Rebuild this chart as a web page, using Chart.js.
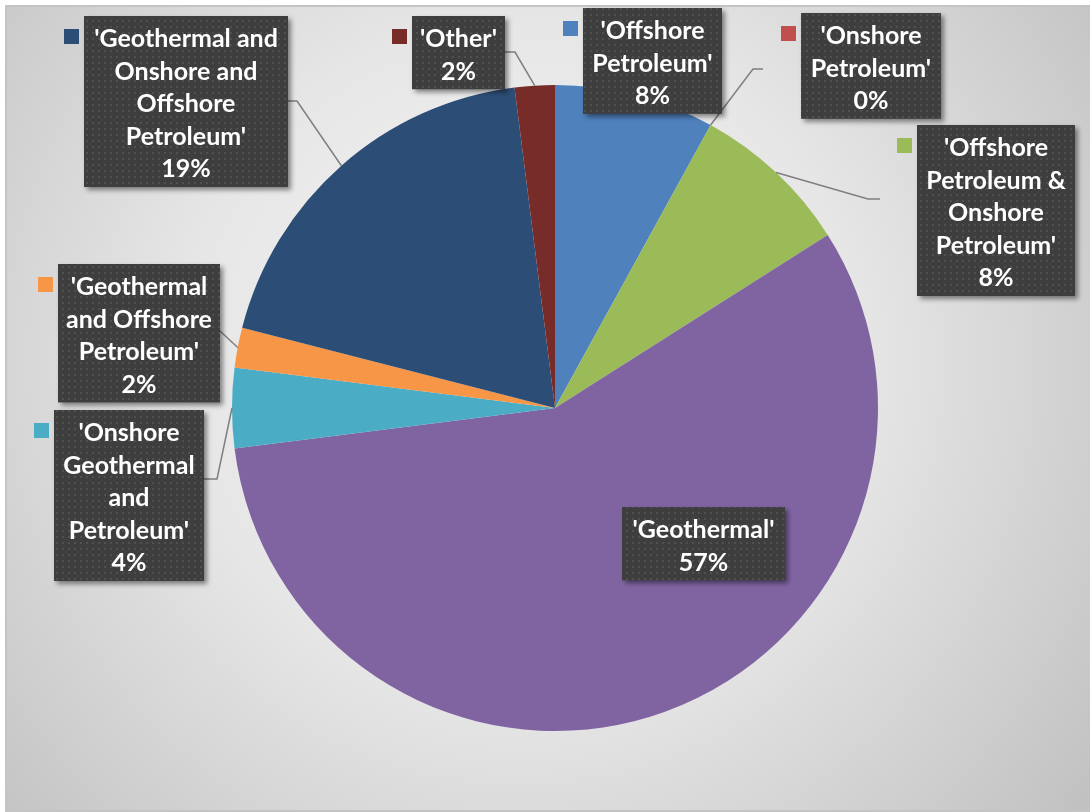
<!DOCTYPE html>
<html>
<head>
<meta charset="utf-8">
<title>Permit types</title>
<script src="https://cdn.jsdelivr.net/npm/chart.js@4/dist/chart.umd.min.js"></script>
<style>
  body { margin: 0; background: #fff; }
  #wrap { width: 1090px; height: 812px; }
</style>
</head>
<body>
<div id="wrap"><canvas id="permitPie" width="1090" height="812"></canvas></div>
<script>
// Share of permits by resource type (percent)
const categories = [
  ["'Offshore", "Petroleum'"],
  ["'Onshore", "Petroleum'"],
  ["'Offshore", "Petroleum &", "Onshore", "Petroleum'"],
  ["'Geothermal'"],
  ["'Onshore", "Geothermal", "and", "Petroleum'"],
  ["'Geothermal", "and Offshore", "Petroleum'"],
  ["'Geothermal and", "Onshore and", "Offshore", "Petroleum'"],
  ["'Other'"]
];
const shares = [8, 0, 8, 57, 4, 2, 19, 2];
const sliceColors = ['#4F81BD', '#C0504D', '#9BBB59', '#8064A2', '#4BACC6', '#F79646', '#2C4D75', '#772C2A'];

// Label box placement: box left/top/width, and leader route (elbow + end) if any
const labelBoxes = [
  { x: 583, y: 8,   w: 139, leader: null },
  { x: 801, y: 13,  w: 140, leader: [[753, 69], [763, 69]] },
  { x: 917, y: 125, w: 158, leader: [[868, 199], [880, 199]] },
  { x: 622, y: 507, w: 163, leader: null },
  { x: 54,  y: 410, w: 150, leader: [[217, 479], [204, 479]] },
  { x: 58,  y: 264, w: 162, leader: [[220, 331]] },
  { x: 84,  y: 16,  w: 204, leader: [[297, 101], [288, 101]] },
  { x: 412, y: 16,  w: 93,  leader: [[515, 52], [505, 52]] }
];

const LINE_H = 32.6;
const FONT = 'bold 25px Lato, "Open Sans", sans-serif';

function makeDotPattern(ctx) {
  const tile = document.createElement('canvas');
  tile.width = 6; tile.height = 6;
  const t = tile.getContext('2d');
  t.fillStyle = '#3e3e3e';
  t.fillRect(0, 0, 6, 6);
  t.fillStyle = '#505050';
  t.fillRect(2, 2, 2, 2);
  return ctx.createPattern(tile, 'repeat');
}

const backdrop = {
  id: 'backdrop',
  beforeDraw(chart) {
    const ctx = chart.ctx;
    ctx.save();
    ctx.fillStyle = '#fff';
    ctx.fillRect(0, 0, chart.width, chart.height);
    const g = ctx.createRadialGradient(520, 360, 0, 520, 360, 760);
    g.addColorStop(0, '#f6f6f6');
    g.addColorStop(0.45, '#e6e6e6');
    g.addColorStop(1, '#bdbdbd');
    ctx.fillStyle = g;
    ctx.fillRect(6, 6, chart.width - 6, 805);
    ctx.strokeStyle = '#c4c4c4';
    ctx.lineWidth = 2;
    ctx.beginPath();
    ctx.moveTo(chart.width, 6);
    ctx.lineTo(6, 6);
    ctx.lineTo(6, 811);
    ctx.lineTo(chart.width, 811);
    ctx.stroke();
    ctx.restore();
  }
};

const calloutLabels = {
  id: 'calloutLabels',
  afterDatasetsDraw(chart) {
    const ctx = chart.ctx;
    const arcs = chart.getDatasetMeta(0).data;
    const pattern = makeDotPattern(ctx);
    ctx.save();

    // leader lines from the slice rim at mid-angle
    ctx.strokeStyle = '#7f7f7f';
    ctx.lineWidth = 1.5;
    arcs.forEach((arc, i) => {
      const box = labelBoxes[i];
      if (!box.leader) return;
      const mid = (arc.startAngle + arc.endAngle) / 2;
      ctx.beginPath();
      ctx.moveTo(arc.x + Math.cos(mid) * arc.outerRadius, arc.y + Math.sin(mid) * arc.outerRadius);
      box.leader.forEach(p => ctx.lineTo(p[0], p[1]));
      ctx.stroke();
    });

    ctx.font = FONT;
    ctx.textAlign = 'center';
    ctx.textBaseline = 'middle';
    arcs.forEach((arc, i) => {
      const box = labelBoxes[i];
      const lines = categories[i].concat([shares[i] + '%']);
      const h = lines.length * LINE_H + 8;

      ctx.save();
      ctx.shadowColor = 'rgba(0,0,0,0.45)';
      ctx.shadowBlur = 5;
      ctx.shadowOffsetX = 3;
      ctx.shadowOffsetY = 3;
      ctx.fillStyle = pattern;
      ctx.fillRect(box.x, box.y, box.w, h);
      ctx.restore();

      // legend key
      ctx.fillStyle = sliceColors[i];
      ctx.fillRect(box.x - 20, box.y + 13, 15, 15);

      ctx.fillStyle = '#ffffff';
      lines.forEach((ln, k) => {
        ctx.fillText(ln, box.x + box.w / 2, box.y + 23 + k * LINE_H);
      });
    });
    ctx.restore();
  }
};

new Chart(document.getElementById('permitPie'), {
  type: 'pie',
  data: {
    labels: categories,
    datasets: [{
      data: shares,
      backgroundColor: sliceColors,
      borderWidth: 0,
      hoverOffset: 0,
      offset: 0
    }]
  },
  options: {
    responsive: false,
    animation: false,
    layout: {
      padding: { left: 232, right: 212, top: 85, bottom: 81 }
    },
    plugins: {
      legend: { display: false },
      tooltip: { enabled: false },
      title: { display: false }
    }
  },
  plugins: [backdrop, calloutLabels]
});
</script>
</body>
</html>
